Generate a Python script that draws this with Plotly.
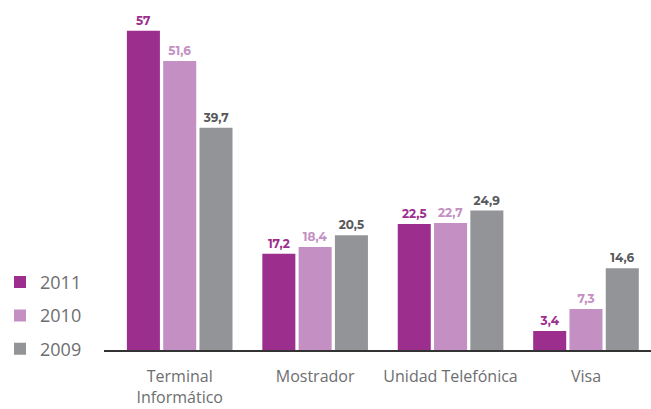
import plotly.graph_objects as go

categories = ["Terminal<br>Informático", "Mostrador", "Unidad Telefónica", "Visa"]
years = ["2011", "2010", "2009"]
values_2011 = [57, 17.2, 22.5, 3.4]
values_2010 = [51.6, 18.4, 22.7, 7.3]
values_2009 = [39.7, 20.5, 24.9, 14.6]

series = [values_2011, values_2010, values_2009]
bar_colors = ["#9c2f8e", "#c48fc2", "#939497"]
label_colors = ["#9c2f8e", "#c48fc2", "#58595b"]


def fmt(v):
    s = f"{v:g}"
    return s.replace(".", ",")


fig = go.Figure()
for name, vals, bc, lc in zip(years, series, bar_colors, label_colors):
    fig.add_trace(go.Bar(
        x=categories,
        y=vals,
        name=name,
        legendgroup=name,
        marker=dict(color=bc, line=dict(width=0)),
        text=[fmt(v) for v in vals],
        textposition="outside",
        cliponaxis=False,
        textfont=dict(family="Montserrat, Lato, sans-serif", size=12, color=lc, weight="bold"),
    ))

fig.update_layout(
    width=651,
    height=409,
    margin=dict(l=104, r=0, t=0, b=59),
    plot_bgcolor="white",
    paper_bgcolor="white",
    barmode="group",
    bargap=0.196,
    bargroupgap=0.09,
    font=dict(family="Open Sans, sans-serif", color="#666666"),
    showlegend=True,
    legend=dict(
        xref="container", yref="container",
        x=0.0, y=0.355, xanchor="left", yanchor="top",
        font=dict(size=18, color="#6d6e70", family="Open Sans, sans-serif"),
        tracegroupgap=7,
        traceorder="grouped",
        bgcolor="rgba(0,0,0,0)",
    ),
    xaxis=dict(
        range=[-0.559, 3.48],
        showline=True,
        linecolor="#333333",
        linewidth=1.5,
        ticks="",
        ticklabelstandoff=11,
        tickfont=dict(size=16, color="#6d6e70", family="Open Sans, sans-serif"),
        showgrid=False,
    ),
    yaxis=dict(
        range=[0, 62.5],
        visible=False,
        showgrid=False,
    ),
)

fig.write_html("out.html")
